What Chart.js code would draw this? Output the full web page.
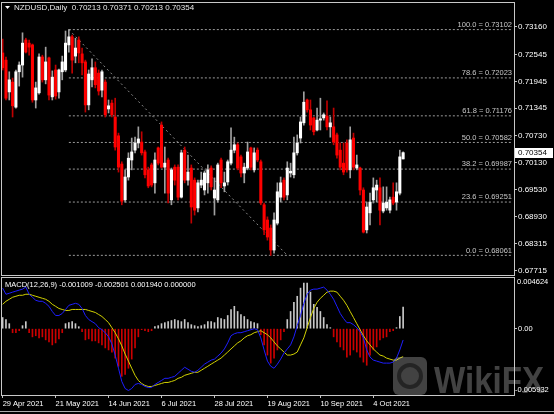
<!DOCTYPE html>
<html>
<head>
<meta charset="utf-8">
<script src="https://cdn.jsdelivr.net/npm/chart.js@4.4.1/dist/chart.umd.min.js"></script>
<style>
  html, body { margin: 0; padding: 0; background: #000; }
  #wrap { position: relative; width: 554px; height: 414px; background: #000; overflow: hidden; }
  #priceChart { position: absolute; left: 0; top: 0; }
  #macdChart { position: absolute; left: 0; top: 276px; }
  #bottomLine { position: absolute; left: 0; top: 411px; width: 554px; height: 1px; background: #a8a8a8; }
</style>
</head>
<body>
<div id="wrap">
  <canvas id="priceChart" width="554" height="277"></canvas>
  <canvas id="macdChart" width="554" height="138"></canvas>
  <div id="bottomLine"></div>
</div>
<script>
// NZDUSD daily candles (29 Apr - 15 Oct 2021)
const opens = [
  0.7258, 0.7242, 0.7171, 0.7193, 0.7137, 0.7216, 0.7231, 0.7287, 0.7280, 0.7276,
  0.7153, 0.7169, 0.7249, 0.7198, 0.7247, 0.7160, 0.7220, 0.7171, 0.7216, 0.7220,
  0.7276, 0.7294, 0.7251, 0.7287, 0.7256, 0.7238, 0.7142, 0.7198, 0.7225, 0.7213,
  0.7175, 0.7193, 0.7133, 0.7146, 0.7115, 0.7073, 0.7010, 0.6930, 0.6981, 0.7019,
  0.7041, 0.7057, 0.7059, 0.7037, 0.6997, 0.7008, 0.6968, 0.7046, 0.7097, 0.7003,
  0.7019, 0.6930, 0.7003, 0.7003, 0.6936, 0.7041, 0.6974, 0.7001, 0.6974, 0.6912,
  0.6963, 0.6952, 0.6968, 0.7001, 0.6934, 0.6930, 0.7019, 0.6961, 0.6970, 0.7012,
  0.7041, 0.7053, 0.7026, 0.6990, 0.7001, 0.7046, 0.6997, 0.7041, 0.7015, 0.6919,
  0.6885, 0.6867, 0.6818, 0.6878, 0.6936, 0.6974, 0.6941, 0.6990, 0.6986, 0.7035,
  0.7068, 0.7102, 0.7153, 0.7131, 0.7113, 0.7086, 0.7108, 0.7113, 0.7117, 0.7093,
  0.7093, 0.7075, 0.7041, 0.7012, 0.7057, 0.6997, 0.7068, 0.7001, 0.7001, 0.6952,
  0.6863, 0.6901, 0.6930, 0.6952, 0.6957, 0.6905, 0.6912, 0.6907, 0.6936, 0.6925,
  0.6945, 0.70213
];
const highs = [
  0.7289, 0.7249, 0.7216, 0.7202, 0.7220, 0.7238, 0.7303, 0.7291, 0.7287, 0.7278,
  0.7193, 0.7256, 0.7253, 0.7271, 0.7249, 0.7218, 0.7231, 0.7222, 0.7251, 0.7307,
  0.73102, 0.7298, 0.7291, 0.7294, 0.7269, 0.7242, 0.7220, 0.7245, 0.7238, 0.7220,
  0.7220, 0.7198, 0.7153, 0.7153, 0.7157, 0.7079, 0.7015, 0.6997, 0.7035, 0.7068,
  0.7070, 0.7093, 0.7082, 0.7041, 0.7003, 0.7012, 0.7035, 0.7048, 0.7104, 0.7048,
  0.7023, 0.7001, 0.7008, 0.7008, 0.7041, 0.7048, 0.7030, 0.7008, 0.6979, 0.6974,
  0.6992, 0.6994, 0.7008, 0.7006, 0.6979, 0.7012, 0.7023, 0.6992, 0.7019, 0.7091,
  0.7070, 0.7057, 0.7030, 0.7012, 0.7059, 0.7048, 0.7046, 0.7046, 0.7019, 0.6923,
  0.6892, 0.6874, 0.6901, 0.6968, 0.6981, 0.6979, 0.7015, 0.7012, 0.7070, 0.7075,
  0.7115, 0.7171, 0.7155, 0.7153, 0.7115, 0.7135, 0.7157, 0.7124, 0.7151, 0.7115,
  0.7135, 0.7079, 0.7057, 0.7057, 0.7064, 0.7093, 0.7079, 0.7030, 0.7003, 0.6957,
  0.6925, 0.6945, 0.6979, 0.6974, 0.6979, 0.6959, 0.6959, 0.6936, 0.6968, 0.6968,
  0.7041, 0.70371
];
const lows = [
  0.7220, 0.7153, 0.7153, 0.7115, 0.7135, 0.7184, 0.7204, 0.7258, 0.7253, 0.7148,
  0.7135, 0.7166, 0.7193, 0.7189, 0.7153, 0.7153, 0.7155, 0.7157, 0.7198, 0.7216,
  0.7260, 0.7213, 0.7236, 0.7236, 0.7209, 0.7126, 0.7131, 0.7182, 0.7180, 0.7164,
  0.7160, 0.7115, 0.7124, 0.7115, 0.7041, 0.6992, 0.6919, 0.6925, 0.6974, 0.6997,
  0.7035, 0.7046, 0.7030, 0.6979, 0.6957, 0.6959, 0.6945, 0.7008, 0.7001, 0.6945,
  0.6923, 0.6919, 0.6963, 0.6930, 0.6934, 0.6968, 0.6963, 0.6878, 0.6896, 0.6903,
  0.6957, 0.6941, 0.6945, 0.6952, 0.6896, 0.6925, 0.6957, 0.6948, 0.6963, 0.7008,
  0.7035, 0.6997, 0.6981, 0.6968, 0.6997, 0.6997, 0.6992, 0.7015, 0.6919, 0.6852,
  0.6840, 0.68061, 0.6811, 0.6874, 0.6925, 0.6930, 0.6930, 0.6981, 0.6979, 0.7030,
  0.7057, 0.7097, 0.7126, 0.7086, 0.7075, 0.7084, 0.7086, 0.7108, 0.7086, 0.7070,
  0.7053, 0.7023, 0.6997, 0.6986, 0.6992, 0.6979, 0.6997, 0.6997, 0.6941, 0.6856,
  0.6856, 0.6874, 0.6923, 0.6925, 0.6874, 0.6901, 0.6907, 0.6901, 0.6919, 0.6907,
  0.6941, 0.70213
];
const closes = [
  0.7225, 0.7157, 0.7198, 0.7140, 0.7216, 0.7231, 0.7280, 0.7260, 0.7271, 0.7153,
  0.7180, 0.7249, 0.7198, 0.7238, 0.7164, 0.7204, 0.7162, 0.7220, 0.7238, 0.7280,
  0.7294, 0.7242, 0.7269, 0.7258, 0.7236, 0.7142, 0.7211, 0.7225, 0.7187, 0.7173,
  0.7216, 0.7120, 0.7140, 0.7120, 0.7048, 0.7003, 0.6927, 0.6981, 0.7023, 0.7037,
  0.7057, 0.7066, 0.7035, 0.6986, 0.6961, 0.6963, 0.7019, 0.7012, 0.7003, 0.7012,
  0.6945, 0.6997, 0.6974, 0.6936, 0.7035, 0.6974, 0.6992, 0.6914, 0.6907, 0.6968,
  0.6974, 0.6990, 0.6997, 0.6959, 0.6952, 0.7008, 0.6968, 0.6968, 0.7015, 0.7041,
  0.7053, 0.7001, 0.6990, 0.7003, 0.7037, 0.7003, 0.7035, 0.7019, 0.6923, 0.6863,
  0.6847, 0.6818, 0.6885, 0.6948, 0.6968, 0.6936, 0.7001, 0.6994, 0.7035, 0.7057,
  0.7104, 0.7148, 0.7131, 0.7097, 0.7082, 0.7108, 0.7111, 0.7120, 0.7093, 0.7102,
  0.7059, 0.7030, 0.7003, 0.6992, 0.6997, 0.7064, 0.7003, 0.7008, 0.6952, 0.6858,
  0.6914, 0.6925, 0.6957, 0.6963, 0.6907, 0.6923, 0.6925, 0.6930, 0.6923, 0.6948,
  0.7026, 0.70354
];

// MACD(12,26,9) sub window
const macdMain = [
  0.00363, 0.00308, 0.00317, 0.00327, 0.00336, 0.00345, 0.00354, 0.00372, 0.00308, 0.00281,
  0.00254, 0.00245, 0.00245, 0.00227, 0.00200, 0.00154, 0.00118, 0.00118, 0.00136, 0.00172,
  0.00209, 0.00218, 0.00227, 0.00218, 0.00181, 0.00118, 0.00082, 0.00063, 0.00045, 0.00009,
  -0.00009, -0.00036, -0.00073, -0.00136, -0.00236, -0.00354, -0.00472, -0.00535, -0.00553, -0.00535,
  -0.00499, -0.00490, -0.00499, -0.00517, -0.00526, -0.00526, -0.00499, -0.00481, -0.00463, -0.00444,
  -0.00444, -0.00435, -0.00426, -0.00399, -0.00372, -0.00345, -0.00363, -0.00381, -0.00390, -0.00372,
  -0.00345, -0.00317, -0.00299, -0.00281, -0.00272, -0.00245, -0.00218, -0.00181, -0.00127, -0.00063,
  -0.00045, -0.00036, -0.00036, -0.00027, -0.00018, -0.00009, 0.00000, -0.00009, -0.00082, -0.00190,
  -0.00290, -0.00336, -0.00354, -0.00317, -0.00272, -0.00218, -0.00181, -0.00145, -0.00073, 0.00027,
  0.00118, 0.00227, 0.00308, 0.00345, 0.00354, 0.00354, 0.00363, 0.00372, 0.00345, 0.00308,
  0.00263, 0.00200, 0.00136, 0.00091, 0.00054, 0.00054, 0.00036, 0.00009, -0.00027, -0.00082,
  -0.00190, -0.00254, -0.00281, -0.00290, -0.00299, -0.00308, -0.00308, -0.00308, -0.00299, -0.00263,
  -0.00190, -0.001009
];
const macdSignal = [
  0.00218, 0.00245, 0.00263, 0.00281, 0.00290, 0.00299, 0.00299, 0.00308, 0.00308, 0.00299,
  0.00290, 0.00281, 0.00272, 0.00263, 0.00245, 0.00218, 0.00200, 0.00181, 0.00172, 0.00163,
  0.00163, 0.00172, 0.00172, 0.00172, 0.00172, 0.00172, 0.00163, 0.00154, 0.00145, 0.00127,
  0.00109, 0.00082, 0.00054, 0.00009, -0.00036, -0.00091, -0.00154, -0.00227, -0.00290, -0.00354,
  -0.00417, -0.00463, -0.00490, -0.00508, -0.00517, -0.00517, -0.00508, -0.00499, -0.00490, -0.00481,
  -0.00481, -0.00472, -0.00463, -0.00444, -0.00435, -0.00417, -0.00408, -0.00399, -0.00390, -0.00390,
  -0.00372, -0.00354, -0.00336, -0.00317, -0.00299, -0.00281, -0.00263, -0.00236, -0.00209, -0.00181,
  -0.00154, -0.00127, -0.00109, -0.00082, -0.00063, -0.00054, -0.00036, -0.00027, -0.00018, -0.00036,
  -0.00054, -0.00082, -0.00118, -0.00154, -0.00181, -0.00209, -0.00236, -0.00236, -0.00227, -0.00209,
  -0.00145, -0.00082, 0.00009, 0.00100, 0.00181, 0.00236, 0.00272, 0.00299, 0.00327, 0.00336,
  0.00336, 0.00327, 0.00290, 0.00254, 0.00209, 0.00154, 0.00100, 0.00045, -0.00009, -0.00063,
  -0.00109, -0.00145, -0.00181, -0.00209, -0.00236, -0.00245, -0.00263, -0.00272, -0.00281, -0.00281,
  -0.00263, -0.002501
];
const macdHist = [
  0.00100, 0.00082, 0.00045, -0.00036, -0.00036, -0.00018, 0.00027, 0.00063, -0.00036, -0.00073,
  -0.00063, -0.00082, -0.00073, -0.00100, -0.00118, -0.00145, -0.00127, -0.00091, -0.00036, 0.00045,
  0.00054, 0.00063, 0.00045, 0.00018, -0.00027, -0.00100, -0.00091, -0.00109, -0.00109, -0.00127,
  -0.00145, -0.00172, -0.00190, -0.00209, -0.00263, -0.00336, -0.00426, -0.00408, -0.00354, -0.00272,
  -0.00172, -0.00073, -0.00009, -0.00018, -0.00027, -0.00018, 0.00018, 0.00027, 0.00045, 0.00054,
  0.00063, 0.00073, 0.00082, 0.00073, 0.00063, 0.00082, 0.00054, 0.00036, 0.00027, 0.00018,
  0.00027, 0.00036, 0.00063, 0.00063, 0.00054, 0.00100, 0.00091, 0.00082, 0.00118, 0.00172,
  0.00200, 0.00154, 0.00127, 0.00109, 0.00082, 0.00063, 0.00054, 0.00045, -0.00054, -0.00145,
  -0.00236, -0.00308, -0.00263, -0.00190, -0.00100, -0.00027, 0.00082, 0.00154, 0.00236, 0.00290,
  0.00363, 0.00408, 0.00408, 0.00327, 0.00218, 0.00190, 0.00154, 0.00100, 0.00036, 0.00009,
  -0.00073, -0.00118, -0.00163, -0.00190, -0.00254, -0.00236, -0.00190, -0.00209, -0.00254, -0.00299,
  -0.00327, -0.00236, -0.00190, -0.00163, -0.00100, -0.00082, -0.00073, -0.00027, -0.00018, 0.00009,
  0.00109, 0.00194
];

// Fibonacci retracement drawn on the chart
const fibPercents = [0.0, 23.6, 38.2, 50.0, 61.8, 78.6, 100.0];
const fibLevels = [0.68061, 0.69251, 0.69987, 0.70582, 0.71176, 0.72023, 0.73102];
const fibStart = 20;  // bar of the swing high
const fibEnd = 86;    // end of the dashed trend line

// axis labels
const priceTicks = [0.73160, 0.72545, 0.71945, 0.71345, 0.70730, 0.70130, 0.69530, 0.68930, 0.68315, 0.67715];
const macdTicks = [0.004624, 0.0, -0.005932];
const dateTicks = ['29 Apr 2021', '21 May 2021', '14 Jun 2021', '6 Jul 2021', '28 Jul 2021', '19 Aug 2021', '10 Sep 2021', '4 Oct 2021'];
const totalSlots = 155;  // bars + empty shift on the right

// trading days as categories
const months = ['Jan', 'Feb', 'Mar', 'Apr', 'May', 'Jun', 'Jul', 'Aug', 'Sep', 'Oct', 'Nov', 'Dec'];
const labels = [];
let day = new Date(2021, 3, 29);
while (labels.length < totalSlots) {
    const wd = day.getDay();
    if (wd !== 0 && wd !== 6) {
        labels.push(day.getDate() + ' ' + months[day.getMonth()] + ' ' + day.getFullYear());
    }
    day.setDate(day.getDate() + 1);
}

const FONT = '"Liberation Sans", Arial, sans-serif';
const last = closes.length - 1;

// frame around each panel
const panelFrame = {
    id: 'panelFrame',
    afterDraw(chart) {
        const a = chart.chartArea, ctx = chart.ctx;
        ctx.save();
        ctx.strokeStyle = '#c8c8c8';
        ctx.lineWidth = 1;
        ctx.strokeRect(a.left + 0.5, a.top + 0.5, a.right - a.left, a.bottom - a.top);
        ctx.restore();
    }
};

// header, fibo labels and the bid box
const priceOverlay = {
    id: 'priceOverlay',
    afterDraw(chart) {
        const a = chart.chartArea, ctx = chart.ctx, ys = chart.scales.y;
        ctx.save();
        // title
        ctx.fillStyle = '#ffffff';
        ctx.beginPath();
        ctx.moveTo(5, 6); ctx.lineTo(10, 6); ctx.lineTo(7.5, 9);
        ctx.closePath(); ctx.fill();
        ctx.font = '8px ' + FONT;
        ctx.textBaseline = 'middle';
        ctx.textAlign = 'left';
        ctx.fillStyle = '#e8e8e8';
        ctx.fillText('NZDUSD,Daily  ' + [opens[last], highs[last], lows[last], closes[last]].map(v => v.toFixed(5)).join(' '), 14, 8);

        // fibo level texts
        ctx.font = '7.5px ' + FONT;
        ctx.textAlign = 'right';
        ctx.textBaseline = 'bottom';
        ctx.fillStyle = '#c8c8c8';
        fibLevels.forEach((v, i) => {
            const y = ys.getPixelForValue(v);
            ctx.fillText(fibPercents[i].toFixed(1) + ' = ' + v.toFixed(5), a.right - 2, y - 1);
        });

        // current price box
        const yb = ys.getPixelForValue(closes[last]);
        ctx.fillStyle = '#ffffff';
        ctx.fillRect(a.right + 1, Math.round(yb) - 5, 38, 10);
        ctx.fillStyle = '#000000';
        ctx.font = '8px ' + FONT;
        ctx.textAlign = 'left';
        ctx.textBaseline = 'middle';
        ctx.fillText(closes[last].toFixed(5), a.right + 4, yb);
        ctx.restore();
    }
};

// MACD title, axis values, watermark
const macdOverlay = {
    id: 'macdOverlay',
    afterDraw(chart) {
        const a = chart.chartArea, ctx = chart.ctx, ys = chart.scales.y;
        ctx.save();
        ctx.font = '7.5px ' + FONT;
        ctx.fillStyle = '#ffffff';
        ctx.textAlign = 'left';
        ctx.textBaseline = 'middle';
        ctx.fillText('MACD(12,26,9) ' + macdMain[last].toFixed(6) + ' ' + macdSignal[last].toFixed(6) + ' ' +
            macdHist[last].toFixed(6) + ' 0.000000', 5, a.top + 8);

        ctx.textBaseline = 'top';
        ctx.fillText(macdTicks[0].toFixed(6), a.right + 3, ys.getPixelForValue(macdTicks[0]) + 1);
        ctx.textBaseline = 'middle';
        ctx.fillText('0.00', a.right + 4, ys.getPixelForValue(macdTicks[1]));
        ctx.textBaseline = 'bottom';
        ctx.fillText(macdTicks[2].toFixed(6), a.right + 1, ys.getPixelForValue(macdTicks[2]) - 1);

        // WikiFX watermark
        ctx.fillStyle = 'rgba(200,200,200,0.33)';
        ctx.beginPath();
        ctx.roundRect(393, 81, 34, 38, 6);
        ctx.fill();
        ctx.strokeStyle = 'rgba(0,0,0,0.45)';
        ctx.lineWidth = 4;
        ctx.beginPath();
        ctx.arc(410, 100, 11, 0, Math.PI * 2);
        ctx.stroke();
        ctx.font = 'bold 37px ' + FONT;
        ctx.textAlign = 'left';
        ctx.textBaseline = 'alphabetic';
        ctx.fillText('WikiFX', 434, 117, 110);
        ctx.restore();
    }
};

// candle pieces
const bodies = opens.map((o, i) => [Math.min(o, closes[i]), Math.max(o, closes[i])]);
const wicks = lows.map((l, i) => [l, highs[i]]);
const isUp = opens.map((o, i) => closes[i] >= o);

const fibSets = fibLevels.map(v => ({
    type: 'line',
    data: [{ x: labels[fibStart], y: v }, { x: labels[totalSlots - 1], y: v }],
    borderColor: '#9a9a9a',
    borderWidth: 1,
    borderDash: [2, 2],
    pointRadius: 0,
    order: 3
}));

const ctx1 = document.getElementById('priceChart').getContext('2d');
const priceChart = new Chart(ctx1, {
    type: 'bar',
    data: {
        labels: labels,
        datasets: [{
            data: bodies,
            backgroundColor: isUp.map(u => u ? '#ffffff' : '#ff0000'),
            barThickness: 2.4,
            minBarLength: 1,
            grouped: false,
            order: 0
        }, {
            data: wicks,
            backgroundColor: isUp.map(u => u ? '#a0a0a0' : '#c00000'),
            barThickness: 1,
            grouped: false,
            order: 1
        }, {
            type: 'line',
            data: [{ x: labels[fibStart], y: fibLevels[6] }, { x: labels[fibEnd], y: fibLevels[0] }],
            borderColor: '#8a8a8a',
            borderWidth: 1,
            borderDash: [2, 3],
            pointRadius: 0,
            order: 2
        }, ...fibSets]
    },
    options: {
        responsive: false,
        animation: false,
        devicePixelRatio: 1,
        events: [],
        layout: { padding: { left: 1, top: 2, right: 0, bottom: 2 } },
        plugins: { legend: { display: false }, tooltip: { enabled: false } },
        scales: {
            x: { display: false, offset: true },
            y: {
                position: 'right',
                min: 0.67622,
                max: 0.73718,
                afterBuildTicks: axis => { axis.ticks = priceTicks.map(v => ({ value: v })); },
                afterFit: axis => { axis.width = 40; axis.paddingTop = 0; axis.paddingBottom = 0; },
                grid: { drawOnChartArea: false, tickLength: 3, color: '#c0c0c0' },
                border: { display: false },
                ticks: {
                    color: '#ffffff',
                    padding: 1,
                    font: { family: FONT, size: 8 },
                    callback: v => v.toFixed(5)
                }
            }
        }
    },
    plugins: [panelFrame, priceOverlay]
});

const ctx2 = document.getElementById('macdChart').getContext('2d');
const macdChart = new Chart(ctx2, {
    type: 'bar',
    data: {
        labels: labels,
        datasets: [{
            type: 'line',
            data: macdMain,
            borderColor: '#1e1eff',
            borderWidth: 1,
            pointRadius: 0,
            order: 0
        }, {
            type: 'line',
            data: macdSignal,
            borderColor: '#d2d200',
            borderWidth: 1,
            pointRadius: 0,
            order: 0
        }, {
            data: macdHist,
            backgroundColor: macdHist.map(v => v >= 0 ? '#c8c8c8' : '#cc0000'),
            barThickness: 1,
            order: 1
        }]
    },
    options: {
        responsive: false,
        animation: false,
        devicePixelRatio: 1,
        events: [],
        layout: { padding: { left: 1, top: 1, right: 0, bottom: 0 } },
        plugins: { legend: { display: false }, tooltip: { enabled: false } },
        scales: {
            x: {
                offset: true,
                afterBuildTicks: axis => { axis.ticks = dateTicks.map(t => ({ value: labels.indexOf(t) })); },
                afterFit: axis => { axis.height = 19; axis.paddingLeft = 0; axis.paddingRight = 0; },
                grid: { drawOnChartArea: false, tickLength: 3, color: '#c0c0c0', offset: false },
                border: { display: false },
                ticks: {
                    color: '#ffffff',
                    align: 'start',
                    maxRotation: 0,
                    autoSkip: false,
                    padding: 1,
                    font: { family: FONT, size: 7.5 },
                    callback: v => labels[v]
                }
            },
            y: {
                position: 'right',
                min: macdTicks[2],
                max: macdTicks[0],
                afterBuildTicks: axis => { axis.ticks = [{ value: 0 }]; },
                afterFit: axis => { axis.width = 40; axis.paddingTop = 0; axis.paddingBottom = 0; },
                grid: { drawOnChartArea: false, tickLength: 3, color: '#c0c0c0' },
                border: { display: false },
                ticks: { display: false }
            }
        }
    },
    plugins: [panelFrame, macdOverlay]
});
</script>
</body>
</html>
